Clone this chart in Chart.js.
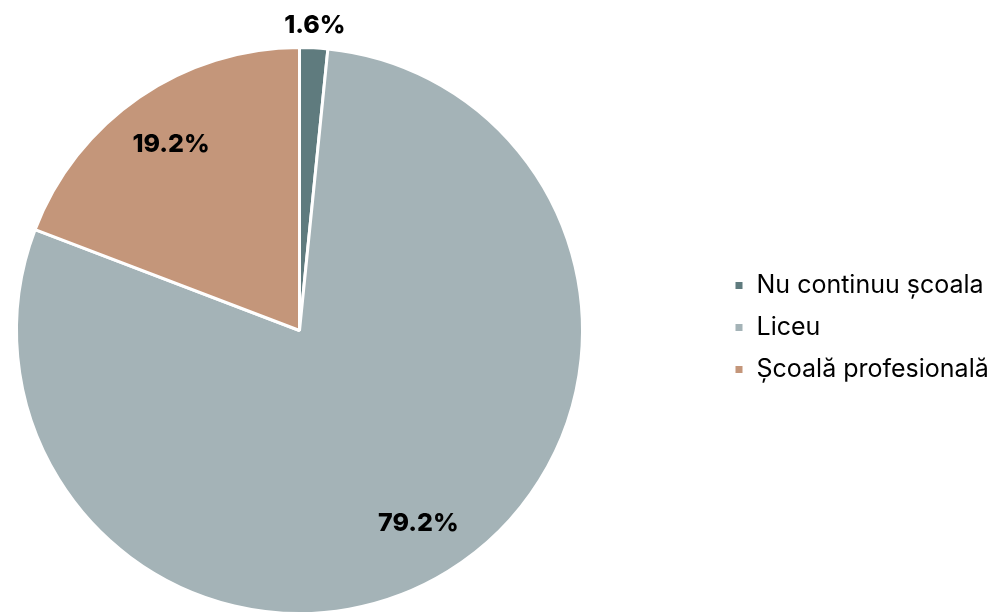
<!DOCTYPE html>
<html lang="ro">
<head>
    <meta charset="UTF-8">
    <title>Opțiuni după clasa a VIII-a</title>
    <script src="https://cdn.jsdelivr.net/npm/chart.js@4.4.1/dist/chart.umd.min.js"></script>
    <style>
        html, body {
            margin: 0;
            padding: 0;
            background: #ffffff;
            overflow: hidden;
        }
        .wrap {
            position: relative;
            width: 997px;
            height: 662px;
        }
    </style>
</head>
<body>
    <div class="wrap">
        <canvas id="pieChart"></canvas>
    </div>

    <script>
        // Data
        const categories = ['Nu continuu școala', 'Liceu', 'Școală profesională'];
        const percentages = [1.6, 79.2, 19.2];
        const sliceColors = ['#5f7b7e', '#a4b3b7', '#c4967a'];

        const FONT = 'Inter, "Open Sans", sans-serif';
        const LEGEND_SIZE = 25;
        const LEGEND_PAD = 17;
        const LEGEND_BOX_X = 734;   // where the legend squares should sit
        const PIE_LEFT = 15;
        const PIE_SIZE = 569;

        // width the legend will take, so the pie keeps its size and place
        const measure = document.createElement('canvas').getContext('2d');
        measure.font = LEGEND_SIZE + 'px ' + FONT;
        const textW = Math.max(...categories.map(c => measure.measureText(c).width));
        const legendW = LEGEND_PAD + 10 + LEGEND_SIZE / 2 + textW + 10;
        const rightPad = 997 - PIE_LEFT - PIE_SIZE - legendW;

        // move the legend away from the pie once the layout is done
        const legendShift = {
            id: 'legendShift',
            afterLayout(chart) {
                const lg = chart.legend;
                const dx = (LEGEND_BOX_X - LEGEND_PAD) - lg.left;
                lg.left += dx;
                lg.right += dx;
                lg.top -= 3;
                lg.bottom -= 3;
            }
        };

        // percentage labels on the slices
        const sliceLabels = {
            id: 'sliceLabels',
            afterDatasetsDraw(chart) {
                const ctx = chart.ctx;
                const meta = chart.getDatasetMeta(0);
                const total = percentages.reduce((a, b) => a + b, 0);
                ctx.save();
                ctx.font = '800 25px ' + FONT;
                ctx.fillStyle = '#000000';
                ctx.textAlign = 'center';
                ctx.textBaseline = 'middle';
                meta.data.forEach((arc, i) => {
                    const p = arc.getProps(['x', 'y', 'startAngle', 'endAngle', 'outerRadius'], true);
                    const mid = (p.startAngle + p.endAngle) / 2;
                    const r = percentages[i] / total < 0.05 ? p.outerRadius + 22 : p.outerRadius * 0.8;
                    ctx.fillText(percentages[i].toFixed(1) + '%', p.x + Math.cos(mid) * r, p.y + Math.sin(mid) * r);
                });
                ctx.restore();
            }
        };

        new Chart(document.getElementById('pieChart'), {
            type: 'pie',
            data: {
                labels: categories,
                datasets: [{
                    data: percentages,
                    backgroundColor: sliceColors,
                    borderColor: '#ffffff',
                    borderWidth: 3
                }]
            },
            options: {
                responsive: true,
                maintainAspectRatio: false,
                animation: false,
                layout: {
                    padding: { left: PIE_LEFT, right: rightPad, top: 46, bottom: 47 }
                },
                plugins: {
                    tooltip: { enabled: false },
                    legend: {
                        position: 'right',
                        align: 'center',
                        labels: {
                            boxWidth: 10,
                            boxHeight: 10,
                            padding: LEGEND_PAD,
                            color: '#000000',
                            font: { family: FONT, size: LEGEND_SIZE }
                        }
                    }
                }
            },
            plugins: [legendShift, sliceLabels]
        });
    </script>
</body>
</html>
